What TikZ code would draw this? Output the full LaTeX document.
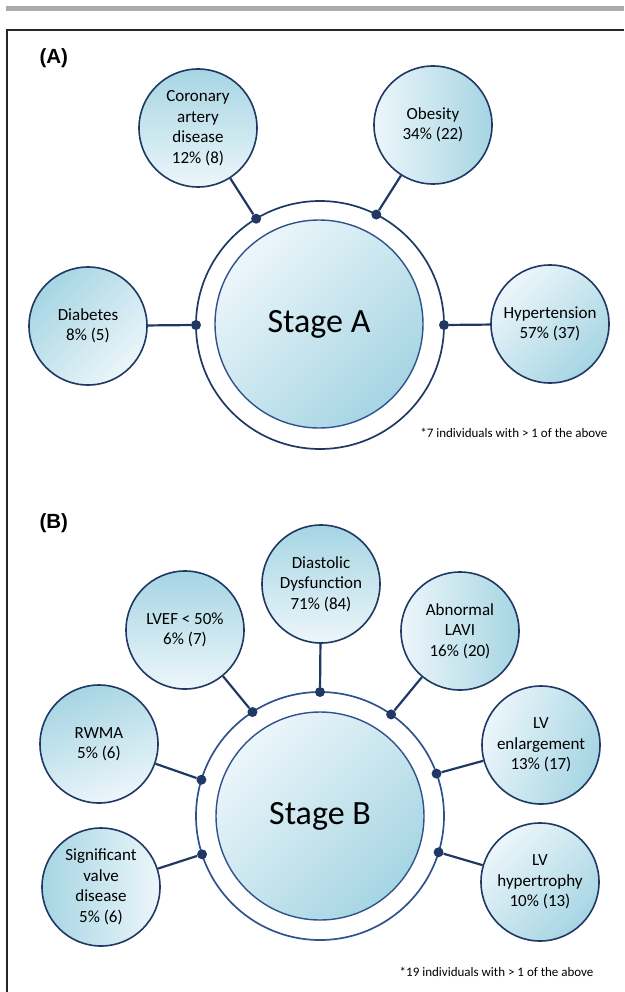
\documentclass[tikz,border=0pt]{standalone}
\usepackage{fontspec}
\setmainfont{Carlito}
\newfontfamily\panelfont{Liberation Sans}
\usepackage{tikz}
\usetikzlibrary{shapes,positioning}
\definecolor{navy}{RGB}{31,56,100}
\definecolor{ringblue}{RGB}{47,82,143}
\definecolor{paleblue}{RGB}{236,246,250}
\definecolor{deepblue}{RGB}{166,213,227}
\tikzstyle{every node}=[align=center]
\tikzstyle{factor}=[circle,draw=navy,line width=1.6pt,minimum size=118pt,inner sep=0pt,
  top color=deepblue,bottom color=paleblue,font=\fontsize{17}{20.5}\selectfont]
\tikzstyle{stage}=[circle,draw=ringblue,line width=1.4pt,minimum size=208pt,inner sep=0pt,
  top color=deepblue,bottom color=paleblue,shading angle=-135,font=\fontsize{34}{40}\selectfont]
\tikzstyle{ring}=[circle,draw=navy,line width=1.7pt,minimum size=248pt,inner sep=0pt,outer sep=0pt]
\tikzstyle{joint}=[circle,fill=navy,inner sep=0pt,minimum size=10pt]
\tikzstyle{link}=[draw=navy,line width=2.2pt]
\tikzstyle{panel}=[anchor=west,font=\panelfont\bfseries\fontsize{20.5}{24}\selectfont]
\tikzstyle{note}=[anchor=east,font=\fontsize{13}{15}\selectfont]

\begin{document}
\begin{tikzpicture}[x=1pt,y=-1pt]
  \useasboundingbox (0,0) rectangle (624,992);
  \fill[black!33] (6,6) rectangle (624,11);
  \draw[black!85,line width=1.5pt] (7,992) -- (7,30) -- (624,30);

  % (A)
  \node[panel] (labA) at (36,58.5) {(A)};
  \node[ring] (ringA) at (320,325) {};
  \node[stage] (stageA) at (319,324) {Stage A};
  \node[factor,shading angle=0] (cad) at (198,128) {Coronary\\artery\\disease\\12\% (8)};
  \node[factor,shading angle=-90] (obes) at (433,125) {Obesity\\34\% (22)};
  \node[factor,shading angle=45] (diab) at (88,326) {Diabetes\\8\% (5)};
  \node[factor,shading angle=-135] (hyp) at (550,324) {Hypertension\\57\% (37)};
  \foreach \ang/\sat [count=\i] in {180/diab,0/hyp,121/cad,63/obes}{
    \node[joint] (jA\i) at (ringA.\ang) {};
    \draw[link] (jA\i) -- (\sat);
  }
  \node[note] (noteA) at (611,433) {*7 individuals with > 1 of the above};

  % (B)
  \node[panel] (labB) at (36,523.5) {(B)};
  \node[ring,draw=ringblue] (ringB) at (320,816) {};
  \node[stage] (stageB) at (320,816) {Stage B};
  \node[factor,shading angle=0] (dias) at (321,584) {Diastolic\\Dysfunction\\71\% (84)};
  \node[factor,shading angle=0] (lvef) at (185,630) {LVEF < 50\%\\6\% (7)};
  \node[factor,shading angle=-90] (lavi) at (460,631) {Abnormal\\LAVI\\16\% (20)};
  \node[factor,shading angle=20] (rwma) at (99,744) {RWMA\\5\% (6)};
  \node[factor,shading angle=-110] (lve) at (541,745) {LV\\enlargement\\13\% (17)};
  \node[factor,shading angle=90] (svd) at (101,887) {Significant\\valve\\disease\\5\% (6)};
  \node[factor,shading angle=-135] (lvh) at (540,882) {LV\\hypertrophy\\10\% (13)};
  \foreach \ang/\sat [count=\i] in {90/dias,123/lvef,55/lavi,163/rwma,20/lve,198/svd,-17/lvh}{
    \node[joint] (jB\i) at (ringB.\ang) {};
    \draw[link] (jB\i) -- (\sat);
  }
  \node[note] (noteB) at (597,972) {*19 individuals with > 1 of the above};
\end{tikzpicture}
\end{document}
